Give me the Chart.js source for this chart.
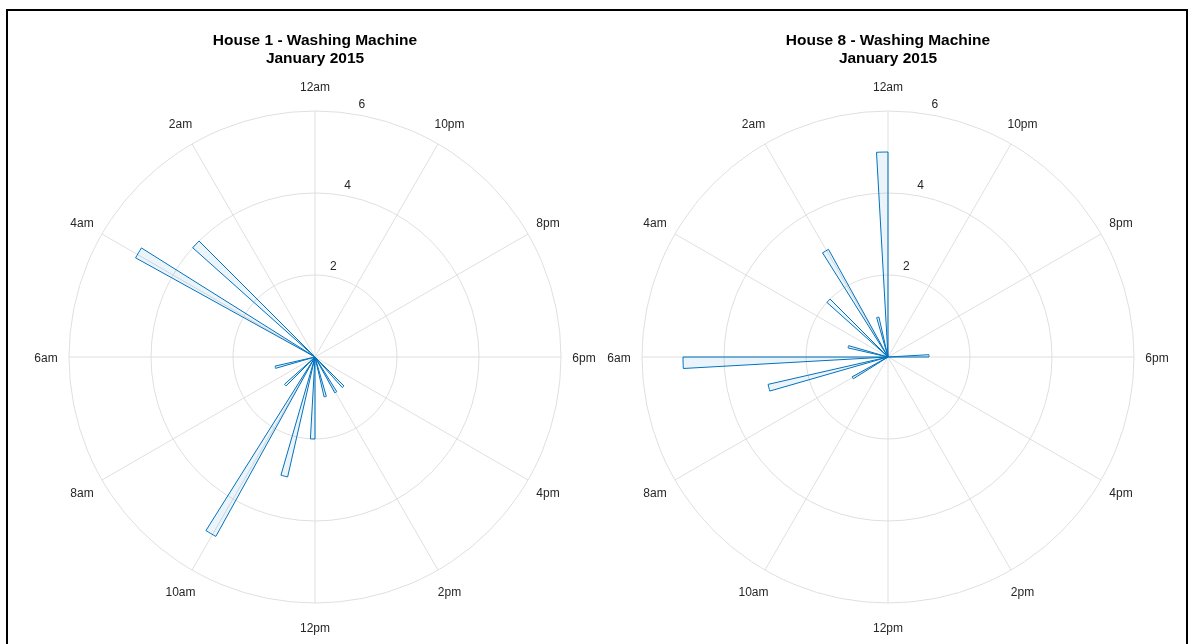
<!DOCTYPE html>
<html>
<head>
<meta charset="utf-8">
<script src="https://cdn.jsdelivr.net/npm/chart.js@4.4.1/dist/chart.umd.min.js"></script>
<style>
  html, body { margin: 0; padding: 0; background: #fff; }
  body { width: 1195px; height: 644px; position: relative; overflow: hidden; }
  .frame { position: absolute; left: 6px; top: 9px; width: 1182px; height: 700px; border: 2px solid #000; box-sizing: border-box; }
  .box { position: absolute; top: 0; width: 600px; height: 644px; }
  #box1 { left: 0; }
  #box8 { left: 573px; }
</style>
</head>
<body>
<div class="frame"></div>
<div class="box" id="box1"><canvas id="house1" width="600" height="644"></canvas></div>
<div class="box" id="box8"><canvas id="house8" width="600" height="644"></canvas></div>
<script>
// 112 equal bins around the clock, counted counter-clockwise from midnight
const BIN_COUNT = 112;
const hourLabels = ['12am', '2am', '4am', '6am', '8am', '10am', '12pm', '2pm', '4pm', '6pm', '8pm', '10pm'];
const rTicks = [2, 4, 6];

// house 1 - bin index and number of runs in that bin
const house1Bins = [14, 18, 32, 41, 46, 51, 55, 60, 65, 69];
const house1Counts = [4, 5, 1, 1, 5, 3, 2, 1, 1, 1];

// house 8
const house8Bins = [0, 4, 9, 14, 23, 28, 32, 37, 84];
const house8Counts = [5, 1, 3, 2, 1, 5, 3, 1, 1];

const FONT = '"Liberation Sans", Arial, Helvetica, sans-serif';

// chart.js walks clockwise, the matlab plot goes counter-clockwise
function clockwiseCounts(bins, counts) {
  const full = new Array(BIN_COUNT).fill(0);
  bins.forEach((b, i) => { full[b] = counts[i]; });
  return full.map((_, j) => full[BIN_COUNT - 1 - j]);
}
const clockwiseLabels = hourLabels.map((_, i) => hourLabels[(12 - i) % 12]);

// hour labels centred on a ring outside the grid, r ticks along the 80deg line
const polarText = {
  id: 'polarText',
  afterDraw(chart) {
    const scale = chart.scales.r;
    const ctx = chart.ctx;
    ctx.save();
    ctx.font = '12px ' + FONT;
    ctx.fillStyle = '#262626';
    ctx.textAlign = 'center';
    ctx.textBaseline = 'middle';
    chart.data.labels.forEach((label, i) => {
      const p = scale.getPointPosition(i, scale.drawingArea + 23);
      const ang = scale.getIndexAngle(i);
      ctx.fillText(label, p.x, p.y + 1.5 * (1 - Math.cos(ang)));
    });
    const a = 10 * Math.PI / 180;
    rTicks.forEach(v => {
      const d = scale.getDistanceFromCenterForValue(v);
      ctx.fillText(String(v), scale.xCenter + d * Math.sin(a) + 4, scale.yCenter - d * Math.cos(a) - 10);
    });
    ctx.restore();
  }
};

function makeChart(id, title, bins, counts) {
  return new Chart(document.getElementById(id), {
    type: 'polarArea',
    data: {
      labels: clockwiseLabels,
      datasets: [{
        data: clockwiseCounts(bins, counts),
        angle: 360 / BIN_COUNT,
        backgroundColor: 'rgba(0, 114, 189, 0.08)',
        borderColor: '#0072BD',
        borderWidth: ctx => (ctx.raw > 0 ? 1 : 0)
      }]
    },
    options: {
      responsive: false,
      animation: false,
      layout: { padding: { left: 69, right: 39, top: 21, bottom: 8 } },
      plugins: {
        legend: { display: false },
        tooltip: { enabled: false },
        title: {
          display: true,
          text: [title, 'January 2015'],
          color: '#000',
          font: { family: FONT, size: 15.5, weight: 'bold', lineHeight: 1.2 },
          padding: { top: 10, bottom: 10 }
        }
      },
      scales: {
        r: {
          min: 0,
          max: 6,
          ticks: { display: false, stepSize: 2 },
          grid: { circular: true, color: '#dfdfdf', lineWidth: 1 },
          angleLines: { display: true, color: '#dfdfdf', lineWidth: 1 },
          pointLabels: { display: false }
        }
      }
    },
    plugins: [polarText]
  });
}

makeChart('house1', 'House 1 - Washing Machine', house1Bins, house1Counts);
makeChart('house8', 'House 8 - Washing Machine', house8Bins, house8Counts);
</script>
</body>
</html>
